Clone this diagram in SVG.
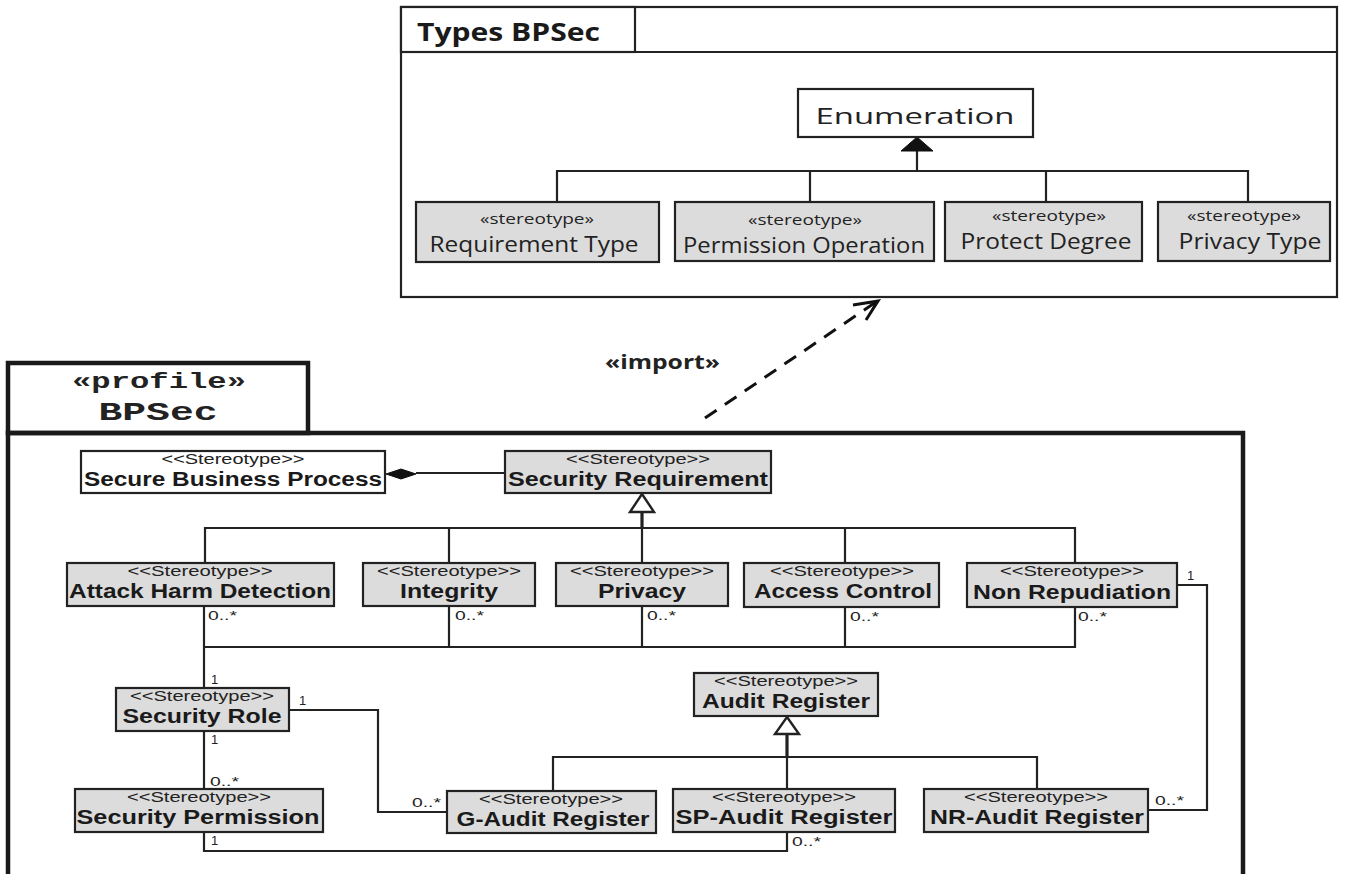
<svg xmlns="http://www.w3.org/2000/svg" width="1357" height="874" viewBox="0 0 1357 874">
  <style>
    .bg { fill: #ffffff; }
    .frame { fill: #ffffff; stroke: #222; stroke-width: 2.2; }
    .pframe { fill: none; stroke: #1a1a1a; stroke-width: 4.5; }
    .box { fill: #dcdcdc; stroke: #222; stroke-width: 2.2; }
    .wbox { fill: #ffffff; stroke: #222; stroke-width: 2.2; }
    .ln { fill: none; stroke: #222; stroke-width: 2.2; }
    .thick { fill: none; stroke: #222; stroke-width: 3.2; }
    .hollow { fill: #ffffff; stroke: #222; stroke-width: 2.4; }
    .solid { fill: #111; stroke: #111; stroke-width: 1; }
    .ster { font-family: "Liberation Sans", Arial, sans-serif; font-size: 14px; fill: #222; text-anchor: middle; }
    .name { font-family: "Liberation Sans", Arial, sans-serif; font-size: 20px; font-weight: bold; fill: #1a1a1a; text-anchor: middle; }
    .mult { font-family: "Liberation Sans", Arial, sans-serif; font-size: 13px; fill: #222; }
    .tster { font-family: "Open Sans", "Liberation Sans", sans-serif; font-size: 14px; fill: #222; text-anchor: middle; }
    .tname { font-family: "Open Sans", "Liberation Sans", sans-serif; font-size: 21px; fill: #222; text-anchor: middle; }
    .mono { font-family: "Liberation Mono", "Courier New", monospace; font-weight: bold; fill: #222; text-anchor: middle; }
  </style>
  <defs>
    <marker id="openArrow" markerWidth="10" markerHeight="10" refX="9" refY="5" orient="auto" markerUnits="userSpaceOnUse" viewBox="0 0 10 10">
      <path d="M0,0 L9,5 L0,10" fill="none" stroke="#111" stroke-width="1.6"/>
    </marker>
  </defs>
  <rect class="bg" x="0" y="0" width="1357" height="874"/>

  <!-- Types BPSec package -->
  <g id="pkg-types">
    <rect class="frame" x="401" y="7" width="936" height="290"/>
    <rect class="frame" x="401" y="7" width="234" height="45"/>
    <line x1="635" y1="52" x2="1337" y2="52" stroke="#222" stroke-width="2.2"/>
    <text x="417" y="41" font-family="'Open Sans', 'Liberation Sans', sans-serif" font-size="25" font-weight="bold" fill="#1a1a1a" textLength="183" lengthAdjust="spacingAndGlyphs">Types BPSec</text>
  </g>

  <!-- BPSec profile package -->
  <g id="pkg-profile">
    <rect x="8" y="363" width="300" height="70" fill="#fff" stroke="#1a1a1a" stroke-width="4.5"/>
    <path class="pframe" d="M8,874 L8,433 L1243,433 L1243,874"/>
    <text class="mono" x="159" y="388" font-size="22" textLength="174" lengthAdjust="spacingAndGlyphs">«profile»</text>
    <text class="mono" x="158" y="420" font-size="26" textLength="119" lengthAdjust="spacingAndGlyphs">BPSec</text>
  </g>

  <!-- connectors -->
  <g id="connectors">
    <!-- enumeration generalisation -->
    <path class="ln" d="M557,202 V171 H1248 V202 M810,171 V202 M1046,171 V202 M917,171 V150"/>
    <polygon class="solid" points="917,137 933,151 901,151"/>

    <!-- import dependency -->
    <line x1="705" y1="418" x2="876" y2="302" stroke="#111" stroke-width="3" stroke-dasharray="14,10" marker-end="url(#openArrow)"/>
    <path d="M853,305 L878,301 L866,320" fill="none" stroke="#111" stroke-width="3"/>

    <!-- composition -->
    <line class="ln" x1="416" y1="473" x2="505" y2="473"/>
    <polygon class="solid" points="386,474 401,469 416,474 401,479"/>

    <!-- security requirement generalisation -->
    <path class="ln" d="M205,563 V528 H1075 V563 M449,528 V563 M845,528 V563 M642,528 V563"/>
    <line class="thick" x1="642" y1="512" x2="642" y2="528"/>
    <polygon class="hollow" points="642,494 654,512 630,512"/>

    <!-- associations to security role -->
    <path class="ln" d="M204,606 V688 M204,647 H1075 V606 M449,606 V647 M642,606 V647 M845,606 V647"/>
    <path class="ln" d="M204,731 V789"/>
    <path class="ln" d="M289,710 H378 V812 H447"/>
    <path class="ln" d="M204,832 V851 H787 V832"/>
    <path class="ln" d="M1177,585 H1207 V810 H1148"/>

    <!-- audit register generalisation -->
    <path class="ln" d="M553,791 V757 H1037 V789 M787,757 V789"/>
    <line class="thick" x1="787" y1="734" x2="787" y2="757"/>
    <polygon class="hollow" points="787,717 799,734 775,734"/>

    <!-- multiplicities -->
    <text class="mult" x="208" y="620" textLength="29" lengthAdjust="spacingAndGlyphs">0..*</text>
    <text class="mult" x="455" y="620" textLength="29" lengthAdjust="spacingAndGlyphs">0..*</text>
    <text class="mult" x="647" y="620" textLength="29" lengthAdjust="spacingAndGlyphs">0..*</text>
    <text class="mult" x="850" y="621" textLength="29" lengthAdjust="spacingAndGlyphs">0..*</text>
    <text class="mult" x="1078" y="621" textLength="29" lengthAdjust="spacingAndGlyphs">0..*</text>
    <text class="mult" x="1187" y="580">1</text>
    <text class="mult" x="211" y="684">1</text>
    <text class="mult" x="299" y="705">1</text>
    <text class="mult" x="211" y="744">1</text>
    <text class="mult" x="210" y="786" textLength="29" lengthAdjust="spacingAndGlyphs">0..*</text>
    <text class="mult" x="412" y="807" textLength="29" lengthAdjust="spacingAndGlyphs">0..*</text>
    <text class="mult" x="211" y="845">1</text>
    <text class="mult" x="792" y="846" textLength="29" lengthAdjust="spacingAndGlyphs">0..*</text>
    <text class="mult" x="1155" y="805" textLength="29" lengthAdjust="spacingAndGlyphs">0..*</text>
  </g>

  <!-- import label -->
  <text x="605" y="369" font-family="'Open Sans', 'Liberation Sans', sans-serif" font-size="19" font-weight="bold" fill="#222" textLength="115" lengthAdjust="spacingAndGlyphs">«import»</text>

  <!-- enumeration types -->
  <g id="enumeration">
    <rect class="wbox" x="798" y="89" width="235" height="48"/>
    <text class="tname" x="915" y="124" font-size="27" textLength="199" lengthAdjust="spacingAndGlyphs">Enumeration</text>
  </g>
  <g id="requirement-type">
    <rect class="box" x="416" y="202" width="243" height="60"/>
    <text class="tster" x="537" y="224" textLength="114" lengthAdjust="spacingAndGlyphs">«stereotype»</text>
    <text class="tname" x="534" y="252" textLength="209" lengthAdjust="spacingAndGlyphs">Requirement Type</text>
  </g>
  <g id="permission-operation">
    <rect class="box" x="675" y="202" width="259" height="59"/>
    <text class="tster" x="805" y="225" textLength="114" lengthAdjust="spacingAndGlyphs">«stereotype»</text>
    <text class="tname" x="804" y="253" textLength="242" lengthAdjust="spacingAndGlyphs">Permission Operation</text>
  </g>
  <g id="protect-degree">
    <rect class="box" x="945" y="202" width="197" height="59"/>
    <text class="tster" x="1049" y="221" textLength="114" lengthAdjust="spacingAndGlyphs">«stereotype»</text>
    <text class="tname" x="1046" y="249" textLength="171" lengthAdjust="spacingAndGlyphs">Protect Degree</text>
  </g>
  <g id="privacy-type">
    <rect class="box" x="1158" y="202" width="172" height="59"/>
    <text class="tster" x="1244" y="221" textLength="114" lengthAdjust="spacingAndGlyphs">«stereotype»</text>
    <text class="tname" x="1250" y="249" textLength="143" lengthAdjust="spacingAndGlyphs">Privacy Type</text>
  </g>

  <!-- profile stereotypes -->
  <g id="secure-business-process">
    <rect class="wbox" x="81" y="451" width="304" height="42"/>
    <text class="ster" x="233" y="464" textLength="143" lengthAdjust="spacingAndGlyphs">&lt;&lt;Stereotype&gt;&gt;</text>
    <text class="name" x="233" y="486" textLength="298" lengthAdjust="spacingAndGlyphs">Secure Business Process</text>
  </g>
  <g id="security-requirement">
    <rect class="box" x="505" y="451" width="266" height="42"/>
    <text class="ster" x="638" y="464" textLength="144" lengthAdjust="spacingAndGlyphs">&lt;&lt;Stereotype&gt;&gt;</text>
    <text class="name" x="638" y="486" textLength="260" lengthAdjust="spacingAndGlyphs">Security Requirement</text>
  </g>
  <g id="attack-harm-detection">
    <rect class="box" x="67" y="563" width="267" height="43"/>
    <text class="ster" x="200" y="576" textLength="145" lengthAdjust="spacingAndGlyphs">&lt;&lt;Stereotype&gt;&gt;</text>
    <text class="name" x="200" y="598" textLength="262" lengthAdjust="spacingAndGlyphs">Attack Harm Detection</text>
  </g>
  <g id="integrity">
    <rect class="box" x="363" y="563" width="172" height="43"/>
    <text class="ster" x="449" y="576" textLength="144" lengthAdjust="spacingAndGlyphs">&lt;&lt;Stereotype&gt;&gt;</text>
    <text class="name" x="449" y="598" textLength="98" lengthAdjust="spacingAndGlyphs">Integrity</text>
  </g>
  <g id="privacy">
    <rect class="box" x="556" y="563" width="172" height="43"/>
    <text class="ster" x="642" y="576" textLength="144" lengthAdjust="spacingAndGlyphs">&lt;&lt;Stereotype&gt;&gt;</text>
    <text class="name" x="642" y="598" textLength="88" lengthAdjust="spacingAndGlyphs">Privacy</text>
  </g>
  <g id="access-control">
    <rect class="box" x="744" y="563" width="195" height="44"/>
    <text class="ster" x="842" y="576" textLength="144" lengthAdjust="spacingAndGlyphs">&lt;&lt;Stereotype&gt;&gt;</text>
    <text class="name" x="843" y="598" textLength="178" lengthAdjust="spacingAndGlyphs">Access Control</text>
  </g>
  <g id="non-repudiation">
    <rect class="box" x="967" y="563" width="210" height="44"/>
    <text class="ster" x="1072" y="576" textLength="144" lengthAdjust="spacingAndGlyphs">&lt;&lt;Stereotype&gt;&gt;</text>
    <text class="name" x="1072" y="599" textLength="198" lengthAdjust="spacingAndGlyphs">Non Repudiation</text>
  </g>
  <g id="security-role">
    <rect class="box" x="116" y="688" width="173" height="43"/>
    <text class="ster" x="202" y="701" textLength="144" lengthAdjust="spacingAndGlyphs">&lt;&lt;Stereotype&gt;&gt;</text>
    <text class="name" x="202" y="723" textLength="159" lengthAdjust="spacingAndGlyphs">Security Role</text>
  </g>
  <g id="audit-register">
    <rect class="box" x="694" y="673" width="184" height="43"/>
    <text class="ster" x="786" y="686" textLength="144" lengthAdjust="spacingAndGlyphs">&lt;&lt;Stereotype&gt;&gt;</text>
    <text class="name" x="786" y="708" textLength="168" lengthAdjust="spacingAndGlyphs">Audit Register</text>
  </g>
  <g id="security-permission">
    <rect class="box" x="75" y="789" width="248" height="43"/>
    <text class="ster" x="199" y="802" textLength="144" lengthAdjust="spacingAndGlyphs">&lt;&lt;Stereotype&gt;&gt;</text>
    <text class="name" x="198" y="824" textLength="243" lengthAdjust="spacingAndGlyphs">Security Permission</text>
  </g>
  <g id="g-audit-register">
    <rect class="box" x="447" y="791" width="209" height="42"/>
    <text class="ster" x="551" y="804" textLength="144" lengthAdjust="spacingAndGlyphs">&lt;&lt;Stereotype&gt;&gt;</text>
    <text class="name" x="553" y="826" textLength="193" lengthAdjust="spacingAndGlyphs">G-Audit Register</text>
  </g>
  <g id="sp-audit-register">
    <rect class="box" x="673" y="789" width="222" height="43"/>
    <text class="ster" x="784" y="802" textLength="144" lengthAdjust="spacingAndGlyphs">&lt;&lt;Stereotype&gt;&gt;</text>
    <text class="name" x="784" y="824" textLength="217" lengthAdjust="spacingAndGlyphs">SP-Audit Register</text>
  </g>
  <g id="nr-audit-register">
    <rect class="box" x="924" y="789" width="224" height="43"/>
    <text class="ster" x="1036" y="802" textLength="144" lengthAdjust="spacingAndGlyphs">&lt;&lt;Stereotype&gt;&gt;</text>
    <text class="name" x="1037" y="824" textLength="214" lengthAdjust="spacingAndGlyphs">NR-Audit Register</text>
  </g>
</svg>
